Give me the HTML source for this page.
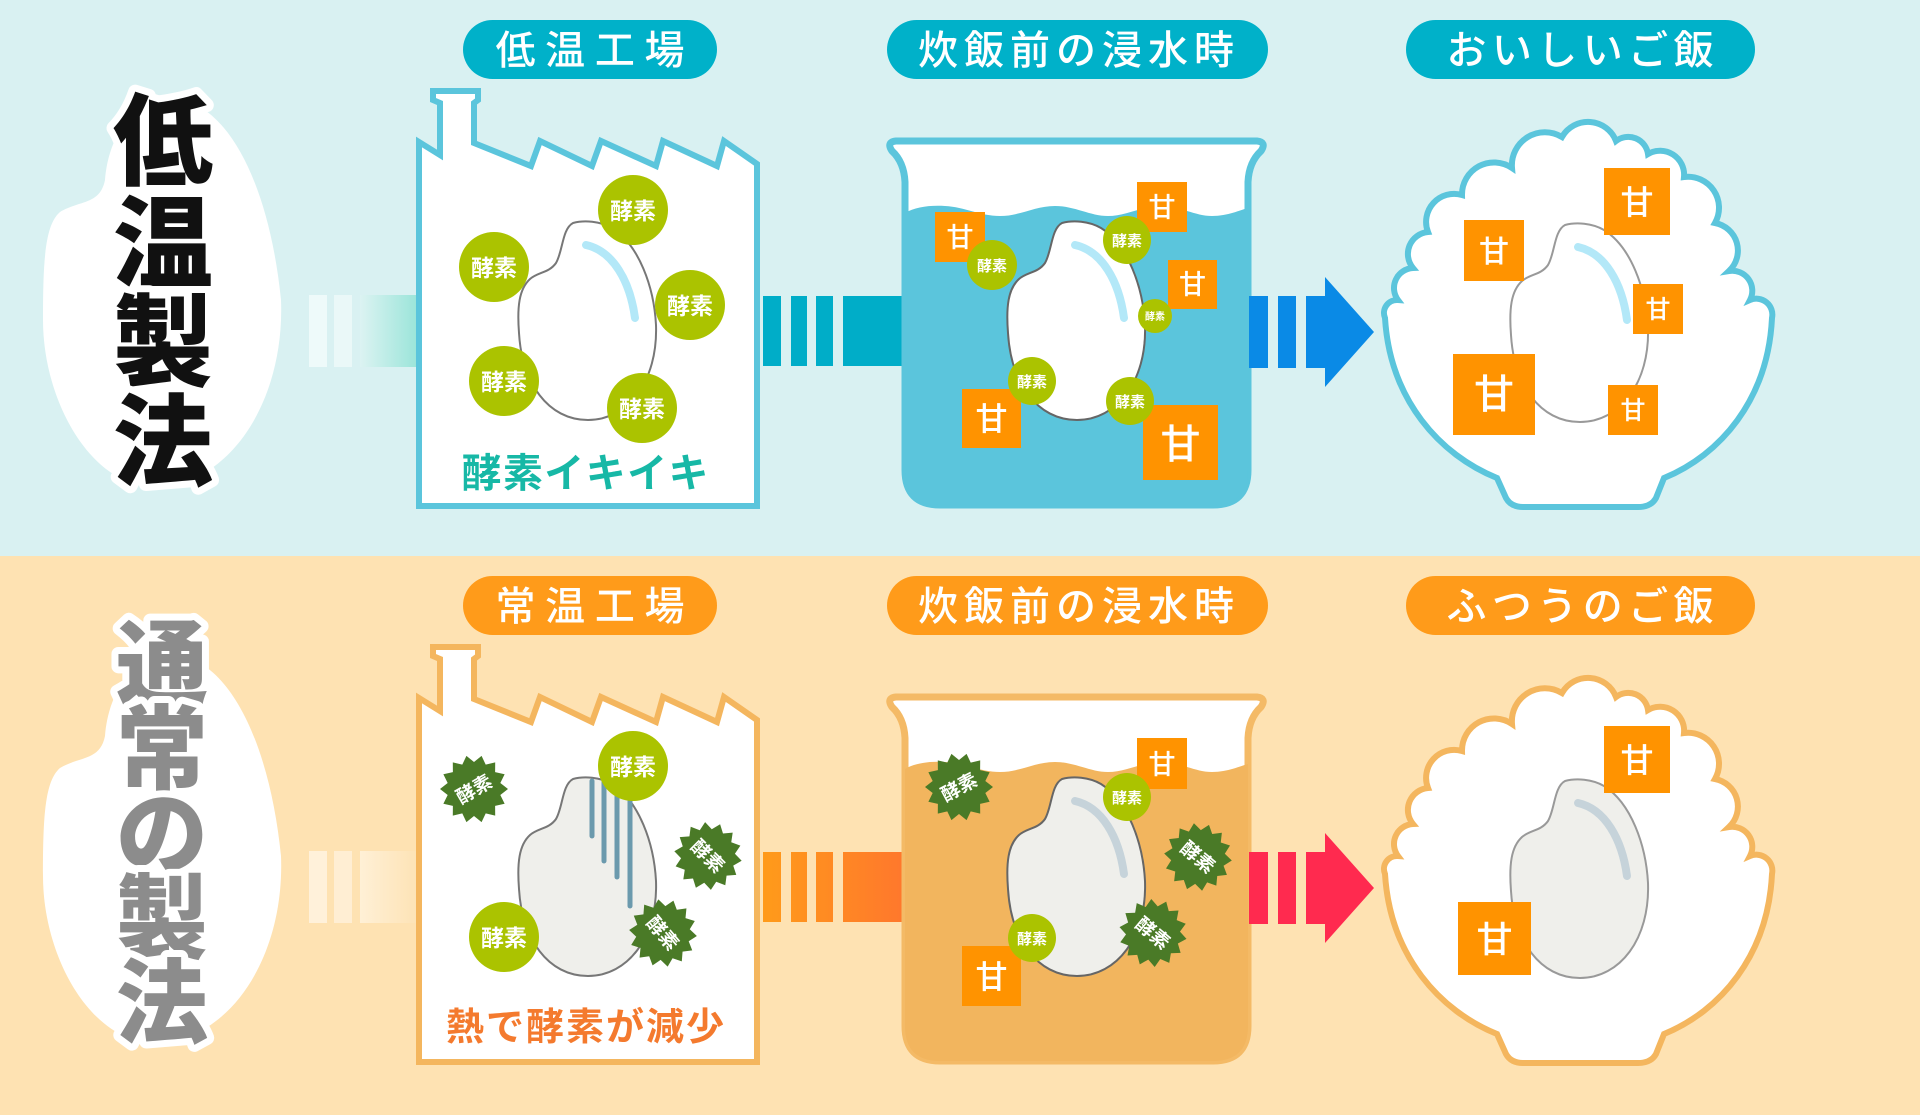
<!DOCTYPE html>
<html><head><meta charset="utf-8"><style>
html,body{margin:0;padding:0;width:1920px;height:1115px;overflow:hidden;background:#d9f1f2}
svg{display:block}
text{font-family:"Liberation Sans","Noto Sans CJK JP",sans-serif}
</style></head><body>
<svg width="1920" height="1115" viewBox="0 0 1920 1115" xmlns="http://www.w3.org/2000/svg">
<defs>
<path id="grain" d="M55,2 C66,-1 82,0 94,7 C121,24 136,66 138,104 C140,160 110,199 70,199 C30,199 4,162 1,112 C-1,86 1,68 12,58 C20,51 31,52 38,42 C45,30 44,8 55,2 Z"/>
<path id="hl" d="M68,24 C95,30 112,60 117,97"/>
<path id="factory" d="M419,506 L419,142 L440,155 L440,103 L433,100 L433,91 L478,91 L478,100 L474,103 L474,143 L531,166 L540,141 L592,166 L601,141 L656,166 L663,141 L717,166 L724,141 L757,164 L757,506 Z"/>
<path id="beaker" d="M896,141 Q886,142 892,151 Q904,162 905,182 L905,470 Q905,505 940,505 L1213,505 Q1248,505 1248,470 L1248,182 Q1249,162 1261,151 Q1267,142 1257,141 Z"/>
<path id="water" d="M905,213 C915,207 930,205 945,206 C965,207 980,216 1000,216 C1020,216 1035,206 1055,206 C1075,206 1090,216 1108,216 C1126,216 1142,206 1160,206 C1180,206 1195,216 1212,216 C1228,216 1240,210 1248,208 L1248,470 Q1248,505 1213,505 L940,505 Q905,505 905,470 Z"/>
<path id="bowl" d="M1385,318 A13,13 0 0 1 1398,300 A20,20 0 0 1 1413,268 A22,22 0 0 1 1428,232 A28,28 0 0 1 1462,195 A32,32 0 0 1 1512,168 A33,33 0 0 1 1562,137 A30,30 0 0 1 1616,141 A20,20 0 0 1 1648,154 A24,24 0 0 1 1684,177 A31,31 0 0 1 1715,223 A28,28 0 0 1 1729,271 A20,20 0 0 1 1750,300 A16,16 0 0 1 1772,318 C1768,400 1720,455 1664,478 L1656,498 Q1651,507 1638,507 L1523,507 Q1511,507 1506,498 L1497,478 C1440,455 1390,400 1385,318 Z"/>
<path id="blob" d="M153,487 C90,485 43,400 43,320 C43,260 45,225 60,212 C80,200 100,205 105,180 C108,140 130,100 170,98 C230,100 270,190 281,300 C285,400 230,487 153,487 Z"/>
<polygon id="star" points="34,0 26.32,6.01 30.63,14.75 21.11,16.83 21.2,26.58 11.72,24.33 7.57,33.15 0,27 -7.57,33.15 -11.72,24.33 -21.2,26.58 -21.11,16.83 -30.63,14.75 -26.32,6.01 -34,0 -26.32,-6.01 -30.63,-14.75 -21.11,-16.83 -21.2,-26.58 -11.72,-24.33 -7.57,-33.15 0,-27 7.57,-33.15 11.72,-24.33 21.2,-26.58 21.11,-16.83 30.63,-14.75 26.32,-6.01"/>
<linearGradient id="gTeal" x1="0" x2="1" y1="0" y2="0"><stop offset="0" stop-color="#dcf3f2"/><stop offset="1" stop-color="#9ce5da"/></linearGradient>
<linearGradient id="gCream" x1="0" x2="1" y1="0" y2="0"><stop offset="0" stop-color="#fff0d6"/><stop offset="1" stop-color="#fde3b6"/></linearGradient>
<linearGradient id="gOr" gradientUnits="userSpaceOnUse" x1="763" x2="902" y1="0" y2="0"><stop offset="0" stop-color="#ff9b1a"/><stop offset="1" stop-color="#ff782c"/></linearGradient>
</defs>

<rect x="0" y="0" width="1920" height="556" fill="#d9f1f2"/>
<rect x="0" y="556" width="1920" height="559" fill="#fee2b2"/>

<!-- ================= TOP ROW ================= -->
<use href="#blob" fill="#ffffff"/>
<g font-size="100" font-weight="900" fill="#111" stroke="#fff" stroke-width="14" stroke-linejoin="round" paint-order="stroke" text-anchor="middle">
<text x="163" y="177">低</text>
<text x="163" y="279">温</text>
<text x="163" y="378">製</text>
<text x="163" y="478">法</text>
</g>

<rect x="463" y="20" width="254" height="59" rx="29.5" fill="#00b1c9"/>
<rect x="887" y="20" width="381" height="59" rx="29.5" fill="#00b1c9"/>
<rect x="1406" y="20" width="349" height="59" rx="29.5" fill="#00b1c9"/>
<g font-size="40" font-weight="500" fill="#fff" text-anchor="middle">
<text x="590" y="64" textLength="189" lengthAdjust="spacing">低温工場</text>
<text x="1076" y="64" textLength="316" lengthAdjust="spacing">炊飯前の浸水時</text>
<text x="1580" y="64" textLength="267" lengthAdjust="spacing">おいしいご飯</text>
</g>

<rect x="309" y="295" width="18" height="72" fill="#eefafa"/>
<rect x="334" y="295" width="18" height="72" fill="#eaf8f8"/>
<rect x="360" y="295" width="56" height="72" fill="url(#gTeal)"/>

<g fill="#00adc8">
<rect x="763" y="296" width="18" height="70"/>
<rect x="791" y="296" width="16" height="70"/>
<rect x="816" y="296" width="17" height="70"/>
<rect x="843" y="296" width="62" height="70"/>
</g>

<use href="#factory" fill="#fff" stroke="#5bc5dc" stroke-width="6"/>
<g transform="translate(518,221)"><use href="#grain" fill="#fff" stroke="#777" stroke-width="2"/><use href="#hl" fill="none" stroke="#b3e8f8" stroke-width="8" stroke-linecap="round"/></g>
<g fill="#abc300">
<circle cx="633" cy="210" r="35"/><circle cx="494" cy="267" r="35"/><circle cx="690" cy="305" r="35"/><circle cx="504" cy="381" r="35"/><circle cx="642" cy="408" r="35"/>
</g>
<g font-size="23" font-weight="700" fill="#fff" text-anchor="middle">
<text x="633" y="219">酵素</text><text x="494" y="276">酵素</text><text x="690" y="314">酵素</text><text x="504" y="390">酵素</text><text x="642" y="417">酵素</text>
</g>
<text x="585" y="487" font-size="40" font-weight="700" fill="#17b8a6" text-anchor="middle" textLength="247" lengthAdjust="spacing">酵素イキイキ</text>

<use href="#beaker" fill="#fff" stroke="#5bc5dc" stroke-width="7"/>
<use href="#water" fill="#5bc5dc"/>
<g transform="translate(1007,221)"><use href="#grain" fill="#fff" stroke="#666" stroke-width="2"/><use href="#hl" fill="none" stroke="#b3e8f8" stroke-width="8" stroke-linecap="round"/></g>
<g fill="#ff9300">
<rect x="935" y="212" width="50" height="50"/><rect x="1137" y="182" width="50" height="50"/><rect x="1168" y="260" width="49" height="49"/><rect x="962" y="389" width="59" height="59"/><rect x="1143" y="405" width="75" height="75"/>
</g>
<g fill="#fff" text-anchor="middle" font-weight="500">
<text x="960" y="247" font-size="27">甘</text><text x="1162" y="217" font-size="27">甘</text><text x="1192.5" y="294" font-size="27">甘</text><text x="991.5" y="430" font-size="32">甘</text><text x="1180.5" y="458" font-size="40">甘</text>
</g>
<g fill="#abc300">
<circle cx="992" cy="265" r="25"/><circle cx="1127" cy="240" r="24"/><circle cx="1155" cy="316" r="17"/><circle cx="1032" cy="381" r="24"/><circle cx="1130" cy="401" r="24"/>
</g>
<g fill="#fff" text-anchor="middle" font-weight="700">
<text x="992" y="271" font-size="15">酵素</text><text x="1127" y="246" font-size="15">酵素</text><text x="1155" y="320" font-size="10">酵素</text><text x="1032" y="387" font-size="15">酵素</text><text x="1130" y="407" font-size="15">酵素</text>
</g>

<g fill="#0a8ae6">
<rect x="1249" y="296" width="19" height="72"/>
<rect x="1278" y="296" width="18" height="72"/>
<rect x="1306" y="296" width="20" height="72"/>
<polygon points="1325,277 1374,332 1325,387"/>
</g>

<use href="#bowl" fill="#fff" stroke="#5bc5dc" stroke-width="6"/>
<g transform="translate(1510,223)"><use href="#grain" fill="#fff" stroke="#999" stroke-width="2"/><use href="#hl" fill="none" stroke="#b3e8f8" stroke-width="8" stroke-linecap="round"/></g>
<g fill="#ff9300">
<rect x="1604" y="168" width="66" height="67"/><rect x="1464" y="220" width="60" height="61"/><rect x="1633" y="284" width="50" height="50"/><rect x="1453" y="354" width="82" height="81"/><rect x="1608" y="385" width="50" height="50"/>
</g>
<g fill="#fff" text-anchor="middle" font-weight="500">
<text x="1637" y="214" font-size="33">甘</text><text x="1494" y="262" font-size="30">甘</text><text x="1658" y="318" font-size="25">甘</text><text x="1494" y="408" font-size="40">甘</text><text x="1633" y="419" font-size="25">甘</text>
</g>

<!-- ================= BOTTOM ROW ================= -->
<use href="#blob" fill="#ffffff" transform="translate(0,556)"/>
<g font-size="92" font-weight="900" fill="#8c8c8c" stroke="#fff" stroke-width="14" stroke-linejoin="round" paint-order="stroke" text-anchor="middle">
<text x="162" y="697">通</text>
<text x="162" y="782">常</text>
<text x="162" y="867">の</text>
<text x="162" y="951">製</text>
<text x="162" y="1036">法</text>
</g>

<rect x="463" y="576" width="254" height="59" rx="29.5" fill="#ff9b1a"/>
<rect x="887" y="576" width="381" height="59" rx="29.5" fill="#ff9b1a"/>
<rect x="1406" y="576" width="349" height="59" rx="29.5" fill="#ff9b1a"/>
<g font-size="40" font-weight="500" fill="#fff" text-anchor="middle">
<text x="590" y="620" textLength="189" lengthAdjust="spacing">常温工場</text>
<text x="1076" y="620" textLength="316" lengthAdjust="spacing">炊飯前の浸水時</text>
<text x="1580" y="620" textLength="267" lengthAdjust="spacing">ふつうのご飯</text>
</g>

<rect x="309" y="851" width="18" height="72" fill="#fff1da"/>
<rect x="334" y="851" width="18" height="72" fill="#ffeed3"/>
<rect x="360" y="851" width="56" height="72" fill="url(#gCream)"/>

<g fill="url(#gOr)">
<rect x="763" y="852" width="18" height="70"/>
<rect x="791" y="852" width="16" height="70"/>
<rect x="816" y="852" width="17" height="70"/>
<rect x="843" y="852" width="62" height="70"/>
</g>

<use href="#factory" fill="#fff" stroke="#f4b65e" stroke-width="6" transform="translate(0,556)"/>
<g transform="translate(518,777)"><use href="#grain" fill="#efefeb" stroke="#777" stroke-width="2"/></g>
<g stroke="#6b9aad" stroke-width="5" stroke-linecap="round">
<line x1="592" y1="781" x2="592" y2="836"/><line x1="604" y1="781" x2="604" y2="861"/><line x1="617" y1="785" x2="617" y2="877"/><line x1="630" y1="795" x2="630" y2="906"/>
</g>
<g fill="#4a7a27">
<use href="#star" transform="translate(474,789)"/><use href="#star" transform="translate(708,856) rotate(8)"/><use href="#star" transform="translate(663,933) rotate(5)"/>
</g>
<g fill="#fff" font-size="19" font-weight="700" text-anchor="middle">
<text transform="translate(474,789) rotate(-30)" y="7">酵素</text>
<text transform="translate(708,856) rotate(45)" y="7">酵素</text>
<text transform="translate(663,933) rotate(50)" y="7">酵素</text>
</g>
<g fill="#abc300"><circle cx="633" cy="766" r="35"/><circle cx="504" cy="937" r="35"/></g>
<g font-size="23" font-weight="700" fill="#fff" text-anchor="middle">
<text x="633" y="775">酵素</text><text x="504" y="946">酵素</text>
</g>
<text x="585" y="1040" font-size="38" font-weight="700" fill="#f47a2e" text-anchor="middle" textLength="278" lengthAdjust="spacing">熱で酵素が減少</text>

<g transform="translate(0,556)">
<use href="#beaker" fill="#fff" stroke="#f4ba66" stroke-width="7"/>
<use href="#water" fill="#f2b55e"/>
</g>
<g transform="translate(1007,777)"><use href="#grain" fill="#efefeb" stroke="#666" stroke-width="2"/><use href="#hl" fill="none" stroke="#c6d3da" stroke-width="8" stroke-linecap="round"/></g>
<g fill="#ff9300"><rect x="1137" y="738" width="50" height="51"/><rect x="962" y="946" width="59" height="60"/></g>
<g fill="#fff" text-anchor="middle" font-weight="500">
<text x="1162" y="774" font-size="27">甘</text><text x="991.5" y="988" font-size="32">甘</text>
</g>
<g fill="#4a7a27">
<use href="#star" transform="translate(959,787)"/><use href="#star" transform="translate(1198,857) rotate(6)"/><use href="#star" transform="translate(1153,933) rotate(10)"/>
</g>
<g fill="#fff" font-size="19" font-weight="700" text-anchor="middle">
<text transform="translate(959,787) rotate(-28)" y="7">酵素</text>
<text transform="translate(1198,857) rotate(40)" y="7">酵素</text>
<text transform="translate(1153,933) rotate(40)" y="7">酵素</text>
</g>
<g fill="#abc300"><circle cx="1127" cy="797" r="24"/><circle cx="1032" cy="938" r="24"/></g>
<g fill="#fff" text-anchor="middle" font-weight="700" font-size="15">
<text x="1127" y="803">酵素</text><text x="1032" y="944">酵素</text>
</g>

<g fill="#ff2a4f">
<rect x="1249" y="852" width="19" height="72"/>
<rect x="1278" y="852" width="18" height="72"/>
<rect x="1306" y="852" width="20" height="72"/>
<polygon points="1325,833 1374,888 1325,943"/>
</g>

<use href="#bowl" fill="#fff" stroke="#f4b65e" stroke-width="6" transform="translate(0,556)"/>
<g transform="translate(1510,779)"><use href="#grain" fill="#efefeb" stroke="#999" stroke-width="2"/><use href="#hl" fill="none" stroke="#c6d3da" stroke-width="8" stroke-linecap="round"/></g>
<g fill="#ff9300"><rect x="1604" y="726" width="66" height="67"/><rect x="1458" y="902" width="73" height="73"/></g>
<g fill="#fff" text-anchor="middle" font-weight="500">
<text x="1637" y="772" font-size="33">甘</text><text x="1494.5" y="952" font-size="36">甘</text>
</g>
</svg>
</body></html>
